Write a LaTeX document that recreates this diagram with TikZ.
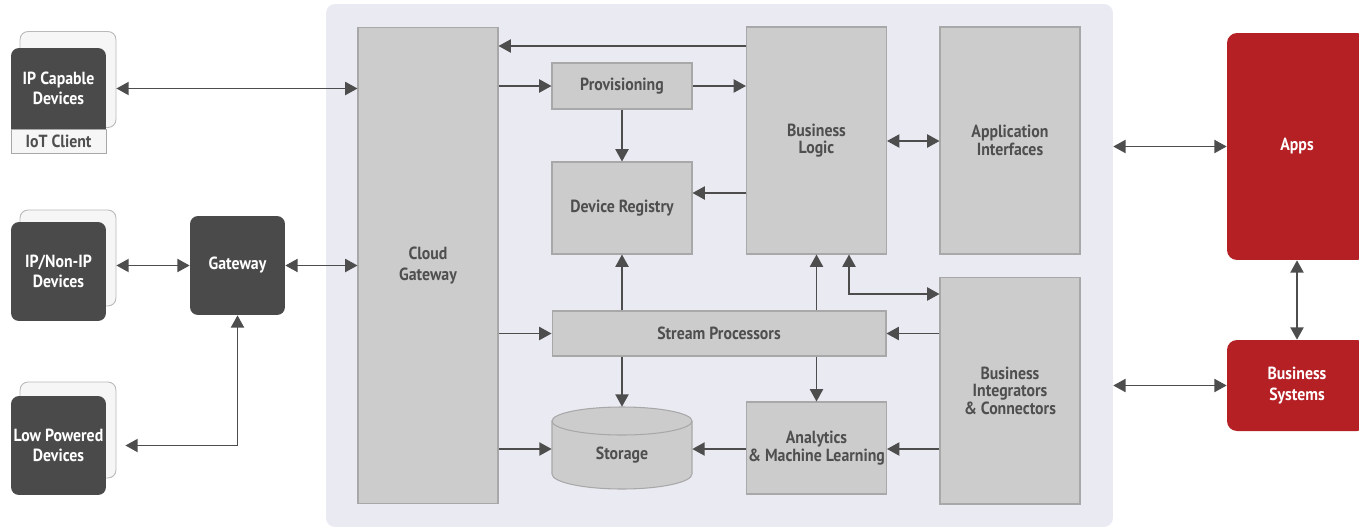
\documentclass[tikz,border=0pt]{standalone}
\usepackage{fontspec}
\setmainfont{PT Sans}[FakeStretch=0.9]
\usetikzlibrary{positioning, arrows.meta}

\definecolor{panelfill}{HTML}{EAEAF3}
\definecolor{boxgray}{HTML}{CCCCCC}
\definecolor{boxline}{HTML}{A8A8A8}
\definecolor{textgray}{HTML}{4F4F4F}
\definecolor{devdark}{HTML}{4A4A4A}
\definecolor{backfill}{HTML}{F6F6F6}
\definecolor{apired}{HTML}{B52025}
\definecolor{arrowgray}{HTML}{4D4D4D}

\begin{document}
\begin{tikzpicture}[x=0.02cm,y=-0.02cm,
    font=\bfseries\fontsize{10}{10}\selectfont,
    >={Triangle[length=7pt,width=7.5pt]},
    conn/.style={color=arrowgray, line width=0.85pt},
    box/.style={draw=boxline, fill=boxgray, text=textgray, align=center,
                inner sep=0pt, line width=0.6pt},
    devbox/.style={fill=devdark, text=white, align=center,
                   rounded corners=0.16cm, inner sep=0pt,
                   minimum width=1.9cm, minimum height=1.98cm},
    backbox/.style={draw=boxline!80, fill=backfill, rounded corners=0.16cm,
                    line width=0.5pt, minimum width=1.92cm, minimum height=1.92cm},
    redbox/.style={fill=apired, text=white, align=center, rounded corners=0.2cm,
                   inner sep=0pt, minimum width=2.8cm}]

   \useasboundingbox (0,0) rectangle (1359,528);

   % cloud panel
   \node[fill=panelfill, rounded corners=0.18cm, minimum width=15.74cm,
         minimum height=10.46cm] (panel) at (719.5,265.5) {};

   % devices on the left
   \node[backbox] (iotback) at (68,79.5) {};
   \node[devbox, minimum height=1.62cm] (iotdev) at (58.5,88.5) {IP Capable\\[1.5pt]Devices};
   \fill[devdark] ([yshift=0.3cm]iotdev.south west) rectangle (iotdev.south east);
   \node[draw=boxline, fill=backfill, text=textgray, minimum width=1.9cm,
         minimum height=0.48cm, inner sep=0pt, below=0pt of iotdev] (iotclient) {IoT Client};

   \node[backbox] (nonipback) at (68,258) {};
   \node[devbox] (nonip) at (58.5,271.5) {IP/Non-IP\\[1pt]Devices};

   \node[backbox] (lowback) at (68,430) {};
   \node[devbox] (low) at (58.5,445.5) {Low Powered\\[1pt]Devices};

   \node[devbox] (gateway) at (237.5,265.5) {Gateway};

   % cloud blocks
   \node[box, minimum width=2.8cm, minimum height=9.54cm] (cloudgw) at (428,265.5) {Cloud\\[1.5pt]Gateway};
   \node[box, minimum width=2.8cm, minimum height=0.92cm] (prov) at (622,86) {Provisioning};
   \node[box, minimum width=2.8cm, minimum height=1.84cm] (registry) at (622,208) {Device Registry};
   \node[box, minimum width=2.8cm, minimum height=4.54cm] (logic) at (816.5,140.5) {Business\\Logic};
   \node[box, minimum width=2.8cm, minimum height=4.54cm] (appif) at (1010,140.5) {Application\\Interfaces};
   \node[box, minimum width=6.68cm, minimum height=0.9cm] (stream) at (719,333.5) {Stream Processors};
   \node[box, minimum width=2.8cm, minimum height=1.84cm] (analytics) at (816.5,448) {Analytics\\\& Machine Learning};
   \node[box, minimum width=2.8cm, minimum height=4.54cm] (integr) at (1010,390.5) {Business\\Integrators\\\& Connectors};

   % storage cylinder
   \node[minimum width=2.8cm, minimum height=1.6cm, inner sep=0pt] (storage) at (622,447) {};
   \filldraw[draw=boxline, fill=boxgray, line width=0.6pt]
      (552,421) -- (552,474) arc[start angle=180, end angle=360, x radius=1.4cm, y radius=0.3cm]
      -- (692,421) arc[start angle=0, end angle=180, x radius=1.4cm, y radius=0.28cm] -- cycle;
   \draw[boxline, line width=0.6pt]
      (552,421) arc[start angle=180, end angle=360, x radius=1.4cm, y radius=0.28cm];
   \node[text=textgray] at (622,455) {Storage};

   % apps
   \node[redbox, minimum height=4.54cm] (apps) at (1297,146.5) {Apps};
   \node[redbox, minimum height=1.82cm] (bizsys) at (1297,385.5) {Business\\[1.5pt]Systems};

   % connectors
   \path[conn, <->]
      (iotback.east |- iotdev) edge (cloudgw.west |- iotdev)
      (nonipback.east |- gateway) edge (gateway.west)
      (gateway.east) edge (cloudgw.west |- gateway)
      (logic.east |- 0,141) edge (appif.west |- 0,141)
      (panel.east |- apps) edge (apps.west)
      (panel.east |- bizsys) edge (bizsys.west)
      (apps.south) edge (bizsys.north);
   \draw[conn, <->] (gateway.south) |- ([xshift=0.18cm]lowback.east |- low);
   \draw[conn, <->] ([xshift=0.65cm]logic.south) |- (integr.west |- 0,294);

   \path[conn, ->]
      (logic.west |- 0,46) edge (cloudgw.east |- 0,46)
      (cloudgw.east |- prov) edge (prov.west)
      (prov.east) edge (logic.west |- prov)
      (prov.south) edge (registry.north)
      (logic.west |- 0,193) edge (registry.east |- 0,193)
      (registry.south |- stream.north) edge (registry.south)
      (logic.south |- stream.north) edge (logic.south)
      (cloudgw.east |- stream) edge (stream.west)
      (integr.west |- stream) edge (stream.east)
      (storage.north |- stream.south) edge (storage.north)
      (analytics.north |- stream.south) edge (analytics.north)
      (cloudgw.east |- 0,449) edge (storage.west |- 0,449)
      (analytics.west |- 0,449) edge (storage.east |- 0,449)
      (integr.west |- 0,449) edge (analytics.east |- 0,449);

\end{tikzpicture}
\end{document}
